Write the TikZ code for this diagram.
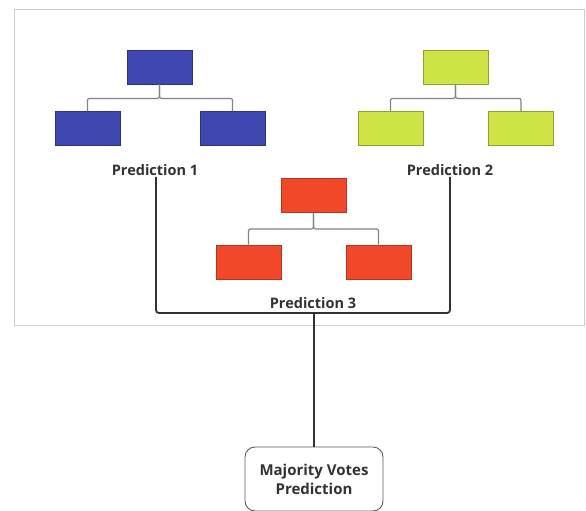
\documentclass[tikz,border=0pt]{standalone}
\usepackage{fontspec}
\setmainfont{Open Sans}
\usepackage{tikz}
\usetikzlibrary{positioning}
\definecolor{treeblue}{RGB}{63,72,176}
\definecolor{treegreen}{RGB}{206,228,70}
\definecolor{treered}{RGB}{240,72,40}
\definecolor{framegray}{RGB}{204,204,204}
\definecolor{linkgray}{RGB}{130,130,130}
\definecolor{mydark}{RGB}{50,50,50}
\tikzset{
  leaf/.style={rectangle, minimum width=65pt, minimum height=34pt,
    inner sep=0pt, line width=0.8pt},
  blueleaf/.style={leaf, fill=treeblue, draw=treeblue!70!black},
  greenleaf/.style={leaf, fill=treegreen, draw=treegreen!70!black},
  redleaf/.style={leaf, fill=treered, draw=treered!75!black},
  predlabel/.style={font=\bfseries\fontsize{14.5}{16}\selectfont, text=mydark, inner sep=1pt},
  link/.style={line width=1.2pt, color=linkgray, rounded corners=2pt},
  mainline/.style={line width=1.8pt, color=mydark, rounded corners=3pt},
  votebox/.style={rectangle, draw=mydark!80, line width=0.9pt, rounded corners=10pt,
    minimum width=138pt, minimum height=64pt, align=center,
    font=\bfseries\fontsize{15}{19}\selectfont, text=mydark}
}

\begin{document}
\begin{tikzpicture}[x=1pt, y=-1pt]
  \useasboundingbox (0,0) rectangle (586,511);

  % Outer frame
  \draw[framegray, line width=1pt] (14,10) rectangle (584,325);

  % Tree 1
  \node[blueleaf] (t1root) at (159.5,67) {};
  \node[blueleaf] (t1left) at (87.5,128.5) {};
  \node[blueleaf] (t1right) at (232.5,128.5) {};
  \draw[link] (t1root.south) -- ++(0,14) -| (t1left.north);
  \draw[link] (t1root.south) -- ++(0,14) -| (t1right.north);
  \node[predlabel] (pred1) at (155,170) {Prediction 1};

  % Tree 2
  \node[greenleaf] (t2root) at (455.5,67) {};
  \node[greenleaf] (t2left) at (390.5,128.5) {};
  \node[greenleaf] (t2right) at (521,128.5) {};
  \draw[link] (t2root.south) -- ++(0,14) -| (t2left.north);
  \draw[link] (t2root.south) -- ++(0,14) -| (t2right.north);
  \node[predlabel] (pred2) at (450,170) {Prediction 2};

  % Tree 3
  \node[redleaf] (t3root) at (313.5,195.5) {};
  \node[redleaf] (t3left) at (248.5,262) {};
  \node[redleaf] (t3right) at (378.5,262) {};
  \draw[link] (t3root.south) -- ++(0,16) -| (t3left.north);
  \draw[link] (t3root.south) -- ++(0,16) -| (t3right.north);
  \node[predlabel] (pred3) at (313,303) {Prediction 3};

  % Voting
  \coordinate (join) at (314,313);
  \node[votebox] (vote) at (314,479) {Majority Votes\\Prediction};
  \draw[mainline] ([xshift=1pt]pred1.south) |- (join) -| (pred2.south);
  \draw[mainline] (join) -- (vote.north);
\end{tikzpicture}
\end{document}
